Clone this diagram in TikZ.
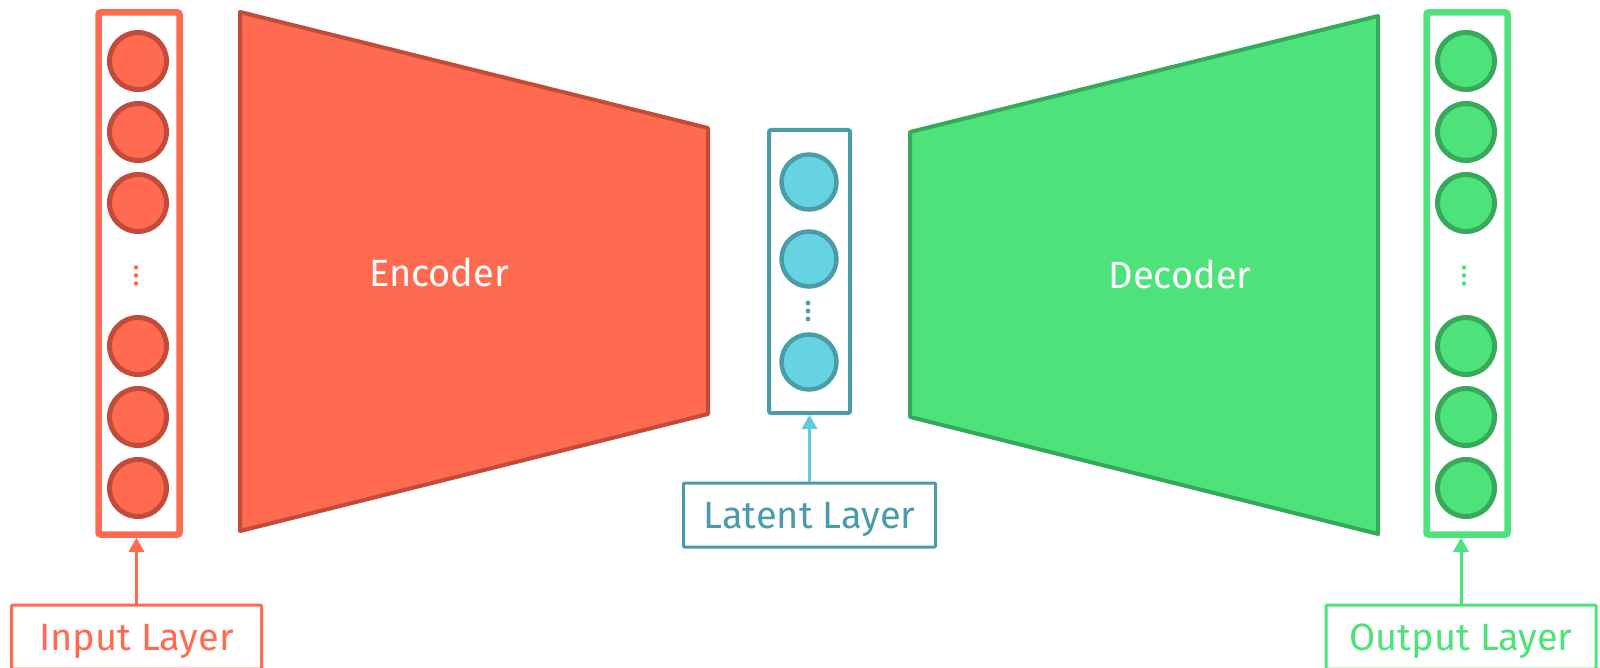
\documentclass[tikz,border=0pt]{standalone}
\usepackage{fontspec}
\setmainfont{Fira Sans}
\usetikzlibrary{arrows.meta, positioning}
\definecolor{encfill}{HTML}{FF6A50}
\definecolor{encline}{HTML}{C24B3B}
\definecolor{decfill}{HTML}{4EE27A}
\definecolor{decline}{HTML}{38A85A}
\definecolor{latfill}{HTML}{66D3E3}
\definecolor{latline}{HTML}{4A9CA8}
\definecolor{latarrow}{HTML}{5CCCDE}

\begin{document}
\begin{tikzpicture}[x=1pt, y=-1pt,
    neuron/.style={circle, draw, line width=5pt, minimum size=57pt, inner sep=0pt},
    column/.style={draw, line width=6.5pt, rounded corners=2pt, minimum width=81pt, inner sep=0pt},
    tagbox/.style={draw, line width=3pt, rounded corners=1pt, minimum height=64pt, inner xsep=20pt,
        text height=27pt, text depth=1pt, font=\fontsize{38}{42}\selectfont},
    feed/.style={line width=3pt, -{Triangle[width=15pt, length=14pt]}}]
    \clip (0,0) rectangle (1600,668);

    % Encoder and decoder blocks
    \draw[encline, fill=encfill, line width=4pt, line join=round]
        (240,12) -- (708,128) -- (708,414) -- (240,531) -- cycle;
    \draw[decline, fill=decfill, line width=4pt, line join=round]
        (910,132) -- (1378,16) -- (1378,534) -- (910,417) -- cycle;
    \node[white, font=\fontsize{38}{42}\selectfont] (enc) at (439,272) {Encoder};
    \node[white, font=\fontsize{38}{42}\selectfont] (dec) at (1180,274) {Decoder};

    % Input and output columns
    \node[column, encfill, minimum height=522pt] (incol) at (139,273.5) {};
    \node[column, decfill, minimum height=522pt] (outcol) at (1467,273.5) {};
    \foreach \y [count=\i] in {61,132,203,346,417,488} {
        \node[neuron, draw=encline, fill=encfill] (in\i) at (138,\y) {};
        \node[neuron, draw=decline, fill=decfill] (out\i) at (1466,\y) {};
    }
    \foreach \y in {267.5,275.5,283.5} {
        \fill[encfill] (136,\y) circle (2.3);
        \fill[decfill] (1464,\y) circle (2.3);
    }

    % Latent column
    \node[column, latline, line width=4pt, minimum height=283pt] (latcol) at (809.5,271.5) {};
    \foreach \y [count=\i] in {182,259,362} {
        \node[neuron, draw=latline, fill=latfill, line width=4.5pt, minimum size=55pt] (lat\i) at (809,\y) {};
    }
    \foreach \y in {303,311,319} {
        \fill[latline] (808,\y) circle (2.4);
    }

    % Labels
    \node[tagbox, encfill, text=encfill, minimum width=250pt] (inlab) at (136.5,637) {Input Layer};
    \node[tagbox, latline, text=latline, minimum width=252pt] (latlab) at (809.5,515) {Latent Layer};
    \node[tagbox, decfill, text=decfill, minimum width=270pt] (outlab) at (1461,637) {Output Layer};

    \draw[feed, encfill] (inlab.north) -- (inlab.north |- incol.south);
    \draw[feed, latarrow] (latlab.north) -- (latlab.north |- latcol.south);
    \draw[feed, decfill] (outlab.north) -- (outlab.north |- outcol.south);
\end{tikzpicture}
\end{document}
